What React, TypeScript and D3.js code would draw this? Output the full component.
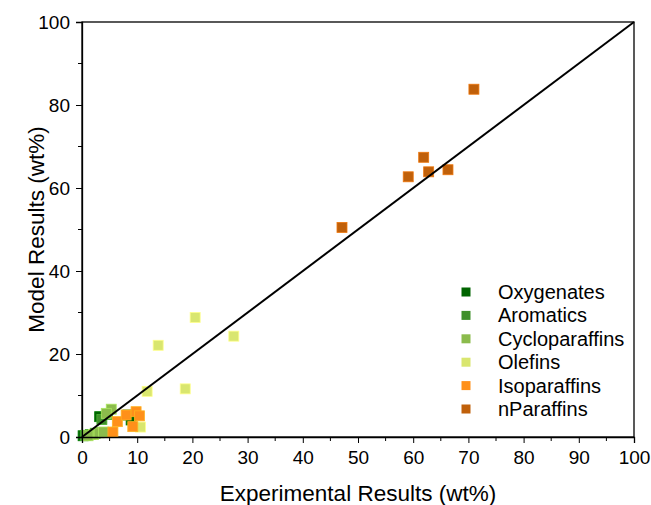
import React, { useRef, useEffect } from "react";
import * as d3 from "d3";

const seriesNames = ["Oxygenates", "Aromatics", "Cycloparaffins", "Olefins", "Isoparaffins", "nParaffins"];
const seriesColors = ["#006400", "#3f8f2a", "#8bbb4c", "#d9e66f", "#ff901a", "#c0600a"];

const oxygenates = [[0.2, 0.3], [3.2, 4.9], [8.3, 5.3], [8.9, 4.1]];
const aromatics = [[0.6, 0.4], [1.5, 0.6], [2.4, 0.9], [3.3, 1.1], [4.6, 5.4], [3.6, 4.2]];
const cycloparaffins = [[5.3, 6.7], [4.4, 5.7], [2.1, 0.6], [3.1, 1.0], [3.9, 1.2], [1.1, 0.3]];
const olefins = [[13.8, 22.1], [20.5, 28.8], [27.5, 24.3], [18.7, 11.6], [11.8, 11.0], [10.6, 2.4]];
const isoparaffins = [[5.6, 1.2], [6.4, 3.7], [8.0, 5.3], [9.8, 6.1], [10.4, 5.1], [9.2, 2.5]];
const nparaffins = [[47.1, 50.5], [59.1, 62.7], [61.9, 67.4], [62.8, 63.9], [66.3, 64.4], [71.0, 83.8]];

const allSeries = [oxygenates, aromatics, cycloparaffins, olefins, isoparaffins, nparaffins];

const xTicks = [0, 10, 20, 30, 40, 50, 60, 70, 80, 90, 100];
const yTicks = [0, 20, 40, 60, 80, 100];

const App = () => {
  const svgRef = useRef(null);

  useEffect(() => {
    const svg = d3.select(svgRef.current);
    svg.selectAll("*").remove();

    const width = 651;
    const height = 505;
    const margin = { top: 22, right: 17, bottom: 68, left: 82 };
    const font = "'Liberation Sans', Arial, sans-serif";

    const x = d3.scaleLinear().domain([0, 100]).range([margin.left, width - margin.right]);
    const y = d3.scaleLinear().domain([0, 100]).range([height - margin.bottom, margin.top]);

    // frame
    svg
      .append("rect")
      .attr("x", x(0))
      .attr("y", y(100))
      .attr("width", x(100) - x(0))
      .attr("height", y(0) - y(100))
      .attr("fill", "none")
      .attr("stroke", "#000")
      .attr("stroke-width", 1.3);

    // points
    allSeries.forEach((pts, i) => {
      svg
        .append("g")
        .selectAll("rect")
        .data(pts)
        .join("rect")
        .attr("x", (d) => x(d[0]) - 5)
        .attr("y", (d) => y(d[1]) - 5)
        .attr("width", 10)
        .attr("height", 10)
        .attr("fill", seriesColors[i])
        .attr("stroke", d3.color(seriesColors[i]).brighter(0.6).formatHex())
        .attr("stroke-width", 0.8);
    });

    // 1:1 line
    svg
      .append("line")
      .attr("x1", x(0))
      .attr("y1", y(0))
      .attr("x2", x(100))
      .attr("y2", y(100))
      .attr("stroke", "#000")
      .attr("stroke-width", 2);

    // x axis
    const xAxis = svg
      .append("g")
      .attr("transform", `translate(0,${y(0)})`)
      .call(d3.axisBottom(x).tickValues(xTicks).tickSize(6).tickPadding(8).tickFormat(d3.format("d")));
    xAxis.select(".domain").attr("stroke-width", 1.3);
    xAxis.selectAll("text").attr("font-family", font).attr("font-size", 19).attr("fill", "#000");
    xAxis
      .selectAll(".minor")
      .data(d3.range(5, 100, 10))
      .join("line")
      .attr("class", "minor")
      .attr("x1", (d) => x(d))
      .attr("x2", (d) => x(d))
      .attr("y1", 0)
      .attr("y2", 4)
      .attr("stroke", "#000");

    // y axis
    const yAxis = svg
      .append("g")
      .attr("transform", `translate(${x(0)},0)`)
      .call(d3.axisLeft(y).tickValues(yTicks).tickSize(6).tickPadding(6).tickFormat(d3.format("d")));
    yAxis.select(".domain").attr("stroke-width", 1.3);
    yAxis.selectAll("text").attr("font-family", font).attr("font-size", 19).attr("fill", "#000");
    yAxis
      .selectAll(".minor")
      .data(d3.range(10, 100, 20))
      .join("line")
      .attr("class", "minor")
      .attr("x1", 0)
      .attr("x2", -4)
      .attr("y1", (d) => y(d))
      .attr("y2", (d) => y(d))
      .attr("stroke", "#000");

    // axis titles
    svg
      .append("text")
      .attr("x", (x(0) + x(100)) / 2)
      .attr("y", 501)
      .attr("text-anchor", "middle")
      .attr("font-family", font)
      .attr("font-size", 22.5)
      .text("Experimental Results (wt%)");

    svg
      .append("text")
      .attr("transform", `translate(44,${(y(0) + y(100)) / 2}) rotate(-90)`)
      .attr("text-anchor", "middle")
      .attr("font-family", font)
      .attr("font-size", 22.5)
      .text("Model Results (wt%)");

    // legend
    const legend = svg.append("g").attr("transform", "translate(466,292)");
    seriesNames.forEach((name, i) => {
      const row = legend.append("g").attr("transform", `translate(0,${i * 23.4})`);
      row
        .append("rect")
        .attr("x", -4.5)
        .attr("y", -4.5)
        .attr("width", 9)
        .attr("height", 9)
        .attr("fill", seriesColors[i]);
      row
        .append("text")
        .attr("x", 32)
        .attr("y", 7)
        .attr("font-family", font)
        .attr("font-size", 20)
        .text(name);
    });
  }, []);

  return (
    <svg
      ref={svgRef}
      width={651}
      height={505}
      style={{ position: "absolute", left: 0, top: 0, background: "#fff" }}
    ></svg>
  );
};

export default App;
